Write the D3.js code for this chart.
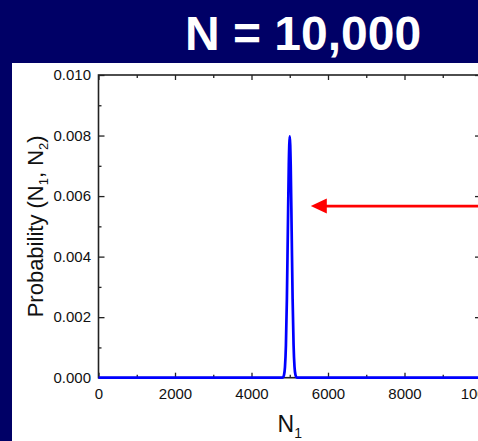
<!DOCTYPE html>
<html>
<head>
<meta charset="utf-8">
<script src="https://cdn.jsdelivr.net/npm/d3@7/dist/d3.min.js"></script>
<style>
html,body{margin:0;padding:0;background:#000066;overflow:hidden;}
svg{display:block;}
</style>
</head>
<body>
<svg id="chart" width="478" height="441"></svg>
<script>
// ---- data ----
const titleText = "N = 10,000";
const n1Values = [0, 4700, 4750, 4800, 4825, 4850, 4875, 4900, 4925, 4950, 4975, 5000,
                  5025, 5050, 5075, 5100, 5125, 5150, 5175, 5200, 5250, 5300, 10000];
const probValues = [0, 0, 0, 0.000003, 0.000017, 0.000089, 0.00035, 0.00108, 0.00259, 0.00483, 0.00703, 0.00797,
                    0.00703, 0.00483, 0.00259, 0.00108, 0.00035, 0.000089, 0.000017, 0.000003, 0, 0, 0];
const xMajorTicks = [0, 2000, 4000, 6000, 8000, 10000];
const xMinorTicks = [1000, 3000, 5000, 7000, 9000];
const yMajorTicks = [0, 0.002, 0.004, 0.006, 0.008, 0.010];
const yMinorTicks = [0.001, 0.003, 0.005, 0.007, 0.009];
const arrowFromN1 = 10500, arrowToN1 = 5550, arrowProb = 0.00567;

// ---- layout ----
const FONT = "'Liberation Sans', Arial, Helvetica, sans-serif";
const svg = d3.select("#chart");
const W = 478, H = 441;
const mLeft = 98.5, mRight = 481, mTop = 75, mBottom = 377.7;

svg.append("rect").attr("x",0).attr("y",0).attr("width",W).attr("height",H).attr("fill","#000066");
svg.append("rect").attr("x",12).attr("y",63).attr("width",W-12).attr("height",H-63).attr("fill","#ffffff");

svg.append("text").attr("x",185).attr("y",50)
  .attr("fill","#ffffff").attr("font-size",48).attr("font-weight","bold")
  .attr("font-family",FONT)
  .text(titleText);

const x = d3.scaleLinear().domain([0,10000]).range([mLeft,mRight]);
const y = d3.scaleLinear().domain([0,0.010]).range([mBottom,mTop]);

const axisColor = "#222";
const g = svg.append("g");

// frame
g.append("rect").attr("x",mLeft).attr("y",mTop).attr("width",mRight-mLeft).attr("height",mBottom-mTop)
  .attr("fill","none").attr("stroke",axisColor).attr("stroke-width",1.6);

function styleAxis(sel){
  sel.attr("font-family",FONT).attr("font-size",15);
  sel.select(".domain").remove();
  sel.selectAll(".tick line").attr("stroke",axisColor).attr("stroke-width",1.3);
  sel.selectAll(".tick text").attr("fill","#111");
}

// bottom axis (inward ticks)
const bx = g.append("g").attr("transform",`translate(0,${mBottom})`)
  .call(d3.axisBottom(x).tickValues(xMajorTicks).tickSize(-5).tickPadding(11).tickFormat(d3.format("d")));
styleAxis(bx);
const bxm = g.append("g").attr("transform",`translate(0,${mBottom})`)
  .call(d3.axisBottom(x).tickValues(xMinorTicks).tickSize(-3).tickFormat(""));
styleAxis(bxm);
// top axis
const tx = g.append("g").attr("transform",`translate(0,${mTop})`)
  .call(d3.axisTop(x).tickValues(xMajorTicks).tickSize(-5).tickFormat(""));
styleAxis(tx);
const txm = g.append("g").attr("transform",`translate(0,${mTop})`)
  .call(d3.axisTop(x).tickValues(xMinorTicks).tickSize(-3).tickFormat(""));
styleAxis(txm);
// left axis
const ly = g.append("g").attr("transform",`translate(${mLeft},0)`)
  .call(d3.axisLeft(y).tickValues(yMajorTicks).tickSize(-6).tickPadding(7.5).tickFormat(d3.format(".3f")));
styleAxis(ly);
const lym = g.append("g").attr("transform",`translate(${mLeft},0)`)
  .call(d3.axisLeft(y).tickValues(yMinorTicks).tickSize(-3).tickFormat(""));
styleAxis(lym);
// right axis
const ry = g.append("g").attr("transform",`translate(${mRight},0)`)
  .call(d3.axisRight(y).tickValues(yMajorTicks).tickSize(-6).tickFormat(""));
styleAxis(ry);
const rym = g.append("g").attr("transform",`translate(${mRight},0)`)
  .call(d3.axisRight(y).tickValues(yMinorTicks).tickSize(-3).tickFormat(""));
styleAxis(rym);

// curve
const data = n1Values.map((v,i)=>({n:v,p:probValues[i]}));
g.append("path").datum(data)
  .attr("fill","none").attr("stroke","#0000ff").attr("stroke-width",2.7)
  .attr("stroke-linejoin","round")
  .attr("d", d3.line().x(d=>x(d.n)).y(d=>y(d.p)).curve(d3.curveMonotoneX));

// arrow
const ay = y(arrowProb), ax0 = x(arrowFromN1), ax1 = x(arrowToN1);
g.append("line").attr("x1",ax0).attr("y1",ay).attr("x2",ax1+14).attr("y2",ay)
  .attr("stroke","#ff0000").attr("stroke-width",2.8);
g.append("path")
  .attr("d",`M${ax1},${ay} L${ax1+16},${ay-7.5} L${ax1+16},${ay+7.5} Z`)
  .attr("fill","#ff0000");

// axis labels
const xl = svg.append("text").attr("x",(mLeft+mRight)/2).attr("y",432)
  .attr("text-anchor","middle").attr("font-size",23).attr("fill","#111").attr("font-family",FONT);
xl.append("tspan").text("N");
xl.append("tspan").attr("font-size",14).attr("dy",6).text("1");

const yl = svg.append("text")
  .attr("transform",`translate(43,${(mTop+mBottom)/2}) rotate(-90)`)
  .attr("text-anchor","middle").attr("font-size",22).attr("fill","#111").attr("font-family",FONT);
yl.append("tspan").text("Probability (N");
yl.append("tspan").attr("font-size",13).attr("dy",5).text("1");
yl.append("tspan").attr("dy",-5).text(", N");
yl.append("tspan").attr("font-size",13).attr("dy",5).text("2");
yl.append("tspan").attr("dy",-5).text(")");
</script>
</body>
</html>
